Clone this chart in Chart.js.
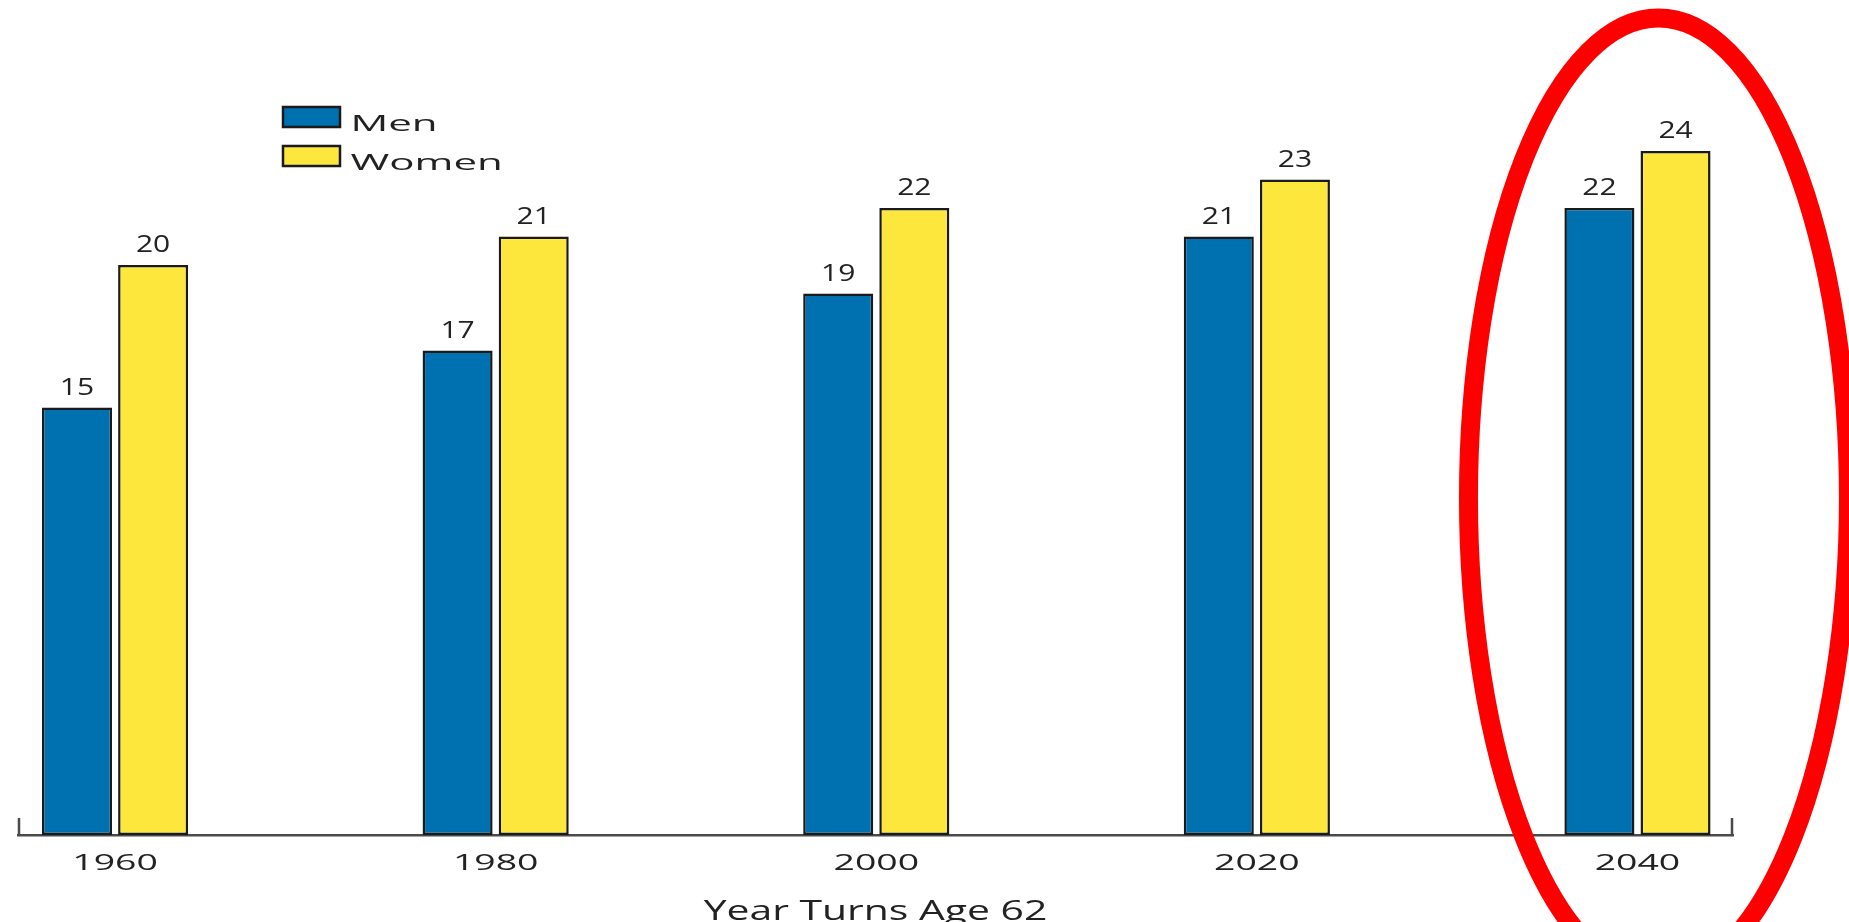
<!DOCTYPE html>
<html>
<head>
<meta charset="utf-8">
<title>Year Turns Age 62</title>
<script src="https://cdn.jsdelivr.net/npm/chart.js@4/dist/chart.umd.min.js"></script>
<style>
  html, body { margin: 0; padding: 0; background: #ffffff; }
  #wrap { position: relative; width: 1849px; height: 922px; }
</style>
</head>
<body>
<div id="wrap"><canvas id="c"></canvas></div>
<script>
// Years remaining at age 62, by the year a cohort turns 62
const years = [1960, 1980, 2000, 2020, 2040];
const menYears = [15, 17, 19, 21, 22];
const womenYears = [20, 21, 22, 23, 24];
const seriesNames = ['Men', 'Women'];
const axisTitle = 'Year Turns Age 62';
const highlightYear = 2040;

const FONT = "'Open Sans', sans-serif";
const TEXT = '#222222';

// Wide lettering: horizontal stretch (and small vertical nudge) per font size
const textStretch = {
  21: { sx: 2.0, dy: 8 },
  22: { sx: 1.7, dy: 0 },
  24: { sx: 1.25, dy: 0 },
  28: { sx: 1.46, dy: 0 }
};

const wideText = {
  id: 'wideText',
  beforeInit(chart) {
    const ctx = chart.ctx;
    const baseFill = Object.getPrototypeOf(ctx).fillText;
    ctx.fillText = function (text, x, y, maxWidth) {
      const m = /(\d+(?:\.\d+)?)px/.exec(this.font);
      const s = m && textStretch[Math.round(+m[1])];
      if (!s) {
        return maxWidth === undefined ? baseFill.call(this, text, x, y)
                                      : baseFill.call(this, text, x, y, maxWidth);
      }
      this.save();
      this.translate(x, y + s.dy);
      this.scale(s.sx, 1);
      baseFill.call(this, text, 0, 0);
      this.restore();
    };
  }
};

// Legend sits inside the plot, upper left; its box is widened for the stretched text
const legendPlacement = {
  id: 'legendPlacement',
  afterLayout(chart) {
    const lg = chart.legend;
    if (!lg) return;
    lg.left = 265;
    lg.top = 88.5;
    lg.right = lg.left + 400;
    lg.bottom = lg.top + 200;
    lg.width = 400;
    lg.height = 200;
  }
};

// Numbers printed above every bar
const valueLabels = {
  id: 'valueLabels',
  afterDatasetsDraw(chart) {
    const ctx = chart.ctx;
    ctx.save();
    ctx.font = '24px ' + FONT;
    ctx.fillStyle = TEXT;
    ctx.textAlign = 'center';
    ctx.textBaseline = 'alphabetic';
    chart.data.datasets.forEach((ds, di) => {
      chart.getDatasetMeta(di).data.forEach((bar, i) => {
        ctx.fillText(String(ds.data[i]), bar.x, bar.y - 13);
      });
    });
    ctx.restore();
  }
};

// End caps on the baseline and the red ring around the last group
const frame = {
  id: 'frame',
  afterDraw(chart) {
    const { ctx, chartArea: a, scales: { x } } = chart;
    ctx.save();
    ctx.strokeStyle = '#4a4a4a';
    ctx.lineWidth = 2.5;
    ctx.beginPath();
    ctx.moveTo(a.left + 1, a.bottom);
    ctx.lineTo(a.left + 1, a.bottom - 17);
    ctx.moveTo(a.right - 1, a.bottom);
    ctx.lineTo(a.right - 1, a.bottom - 17);
    ctx.stroke();

    const cx = x.getPixelForValue(highlightYear) + 21;
    ctx.strokeStyle = '#ff0000';
    ctx.lineWidth = 19;
    ctx.beginPath();
    ctx.ellipse(cx, 498, 190, 480, 0, 0, Math.PI * 2);
    ctx.stroke();
    ctx.restore();
  }
};

new Chart(document.getElementById('c'), {
  type: 'bar',
  data: {
    labels: years,
    datasets: [
      {
        label: seriesNames[0],
        data: menYears,
        backgroundColor: '#0071b0',
        borderColor: '#1a1a1a',
        borderWidth: 2.5,
        borderSkipped: false
      },
      {
        label: seriesNames[1],
        data: womenYears,
        backgroundColor: '#fde73c',
        borderColor: '#1a1a1a',
        borderWidth: 2.5,
        borderSkipped: false
      }
    ]
  },
  options: {
    responsive: true,
    maintainAspectRatio: false,
    animation: false,
    categoryPercentage: 0.4,
    barPercentage: 0.92,
    layout: { padding: { left: 18, right: 116, top: 37, bottom: 0 } },
    plugins: {
      legend: {
        position: 'chartArea',
        align: 'start',
        labels: {
          boxWidth: 57,
          boxHeight: 20,
          padding: 18,
          color: TEXT,
          font: { family: FONT, size: 21 }
        }
      },
      tooltip: { enabled: false }
    },
    scales: {
      x: {
        type: 'linear',
        offset: false,
        min: 1954.9,
        max: 2045.02,
        afterBuildTicks: (scale) => { scale.ticks = years.map(v => ({ value: v })); },
        grid: { display: false, drawTicks: false },
        border: { display: true, color: '#4a4a4a', width: 2.5 },
        ticks: {
          autoSkip: false,
          maxRotation: 0,
          padding: 16,
          color: TEXT,
          font: { family: FONT, size: 22 },
          callback: (v) => String(v)
        },
        title: {
          display: true,
          text: axisTitle,
          color: TEXT,
          font: { family: FONT, size: 28, lineHeight: 1 },
          padding: { top: 4.6, bottom: -4 }
        }
      },
      y: { display: false, min: 0, max: 28 }
    }
  },
  plugins: [wideText, legendPlacement, valueLabels, frame]
});
</script>
</body>
</html>
